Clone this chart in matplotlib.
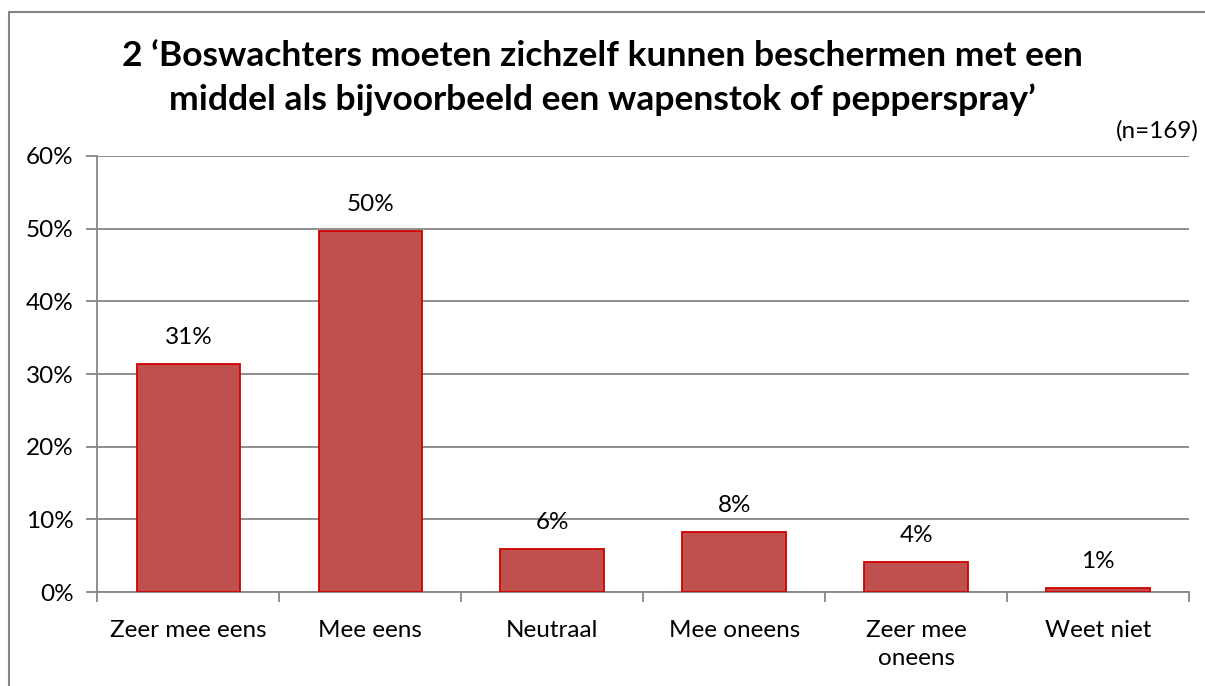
import numpy as np
import matplotlib.pyplot as plt
from matplotlib.patches import Rectangle
from matplotlib.ticker import FixedLocator, PercentFormatter

# survey answers (n=169), shares in percent
categories = ['Zeer mee eens', 'Mee eens', 'Neutraal', 'Mee oneens', 'Zeer mee\noneens', 'Weet niet']
values = [31.4, 49.7, 5.9, 8.3, 4.1, 0.6]
labels = ['31%', '50%', '6%', '8%', '4%', '1%']

title = "2 \u2018Boswachters moeten zichzelf kunnen beschermen met een\nmiddel als bijvoorbeeld een wapenstok of pepperspray\u2019"

plt.rcParams['font.family'] = ['Lato', 'DejaVu Sans']
grey = '#868686'
fs = 17.5

fig = plt.figure(figsize=(12.05, 6.86), dpi=100)
ax = fig.add_axes([0.0809, 0.137, 0.9058, 0.6356])

x = np.arange(len(categories))
ax.bar(x, values, width=0.57, color='#C0504D', edgecolor='#D00000', linewidth=1.3, zorder=3)

for xi, v, lab in zip(x, values, labels):
    ax.annotate(lab, (xi, v), xytext=(0, 19), textcoords='offset points',
                ha='center', va='center', fontsize=fs)

ax.set_xlim(-0.5, len(categories) - 0.5)
ax.set_ylim(0, 60)
ax.set_yticks(np.arange(0, 61, 10))
ax.yaxis.set_major_formatter(PercentFormatter(decimals=0))
ax.grid(axis='y', color=grey, linewidth=1.3, zorder=0)

# category separators as ticks, labels in between
ax.xaxis.set_major_locator(FixedLocator(np.arange(-0.5, len(categories), 1.0)))
ax.xaxis.set_minor_locator(FixedLocator(x))
ax.set_xticklabels([])
ax.set_xticklabels(categories, minor=True)
for t in ax.get_xticklabels(minor=True):
    t.set_linespacing(1.4)
ax.tick_params(axis='x', which='major', length=7, width=1.3, color=grey, direction='out')
ax.tick_params(axis='x', which='minor', length=0, pad=20, labelsize=fs)
ax.tick_params(axis='y', length=8, width=1.3, color=grey, pad=9, labelsize=fs)

for side in ['top', 'right']:
    ax.spines[side].set_visible(False)
for side in ['left', 'bottom']:
    ax.spines[side].set_color(grey)
    ax.spines[side].set_linewidth(1.3)

fig.text(0.4996, 0.886, title, ha='center', va='center', fontsize=25.5,
         fontweight='bold', linespacing=1.42)
fig.text(0.995, 0.810, '(n=169)', ha='right', va='center', fontsize=fs)

# chart frame (cropped at right and bottom)
fig.patches.append(Rectangle((9 / 1205, -0.1), 1.2, 1.1 - 12 / 686, transform=fig.transFigure,
                             fill=False, edgecolor=grey, linewidth=1.5))

fig.savefig('out.png', dpi=100)
